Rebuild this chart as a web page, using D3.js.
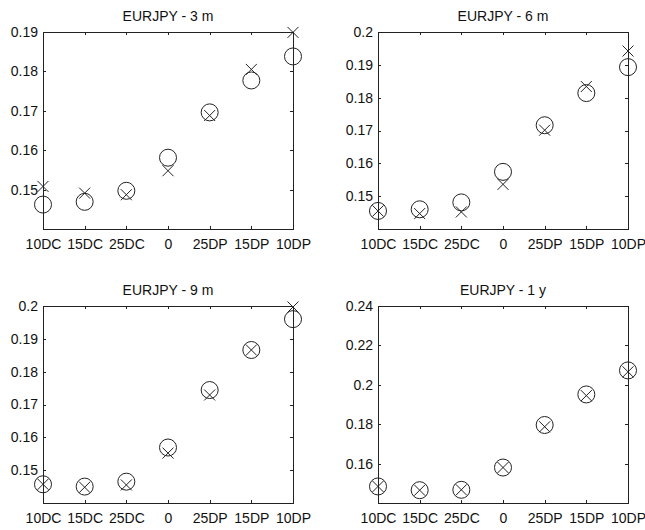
<!DOCTYPE html>
<html>
<head>
<meta charset="utf-8">
<script src="https://cdn.jsdelivr.net/npm/d3@7"></script>
<style>
  body { margin: 0; background: #fff; }
  text { font-family: "Liberation Sans", Arial, sans-serif; fill: #111; }
</style>
</head>
<body>
<svg id="chart" width="645" height="530"></svg>
<script>
// Categories (strike points)
const categories = ['10DC', '15DC', '25DC', '0', '25DP', '15DP', '10DP'];

// Panel titles
const titles = ['EURJPY - 3 m', 'EURJPY - 6 m', 'EURJPY - 9 m', 'EURJPY - 1 y'];

// Circle series (market) per tenor
const circles3m = [0.1462, 0.1469, 0.1497, 0.1581, 0.1696, 0.1777, 0.1838];
const circles6m = [0.1455, 0.1460, 0.1481, 0.1574, 0.1716, 0.1814, 0.1893];
const circles9m = [0.1457, 0.1450, 0.1465, 0.1569, 0.1744, 0.1866, 0.1960];
const circles1y = [0.1484, 0.1465, 0.1467, 0.1580, 0.1796, 0.1951, 0.2073];

// Cross series (model) per tenor
const crosses3m = [0.1508, 0.1491, 0.1487, 0.1548, 0.1688, 0.1805, 0.1899];
const crosses6m = [0.1455, 0.1447, 0.1452, 0.1536, 0.1701, 0.1834, 0.1942];
const crosses9m = [0.1457, 0.1448, 0.1455, 0.1552, 0.1729, 0.1866, 0.1997];
const crosses1y = [0.1484, 0.1465, 0.1467, 0.1580, 0.1787, 0.1945, 0.2066];

// Y domains and tick labels per panel
const yDomains = [[0.14, 0.19], [0.14, 0.2], [0.14, 0.2], [0.14, 0.24]];
const yTicks3m = [0.15, 0.16, 0.17, 0.18, 0.19];
const yTicks6m = [0.15, 0.16, 0.17, 0.18, 0.19, 0.2];
const yTicks9m = [0.15, 0.16, 0.17, 0.18, 0.19, 0.2];
const yTicks1y = [0.16, 0.18, 0.2, 0.22, 0.24];

const panels = [
  { title: titles[0], circles: circles3m, crosses: crosses3m, domain: yDomains[0], ticks: yTicks3m, x: 43, y: 32 },
  { title: titles[1], circles: circles6m, crosses: crosses6m, domain: yDomains[1], ticks: yTicks6m, x: 378, y: 32 },
  { title: titles[2], circles: circles9m, crosses: crosses9m, domain: yDomains[2], ticks: yTicks9m, x: 43, y: 306 },
  { title: titles[3], circles: circles1y, crosses: crosses1y, domain: yDomains[3], ticks: yTicks1y, x: 378, y: 306 }
];

const W = 250, H = 197;
const svg = d3.select('#chart');
const ink = '#222';

function fmt(v) {
  // MATLAB-style: drop trailing zeros
  return String(+v.toFixed(2));
}

panels.forEach(p => {
  const g = svg.append('g').attr('transform', `translate(${p.x},${p.y})`);

  const xScale = d3.scalePoint().domain(categories).range([0, W]);
  const yScale = d3.scaleLinear().domain(p.domain).range([H, 0]);

  // Box
  g.append('rect')
    .attr('x', 0).attr('y', 0).attr('width', W).attr('height', H)
    .style('fill', 'none').style('stroke', ink).style('stroke-width', '1px')
    .attr('shape-rendering', 'crispEdges');

  // Axes with inward ticks
  const xb = g.append('g').attr('transform', `translate(0,${H})`)
    .call(d3.axisBottom(xScale).tickSize(-3).tickPadding(10));
  const xt = g.append('g')
    .call(d3.axisTop(xScale).tickSize(-3).tickFormat(''));
  const yl = g.append('g')
    .call(d3.axisLeft(yScale).tickValues(p.ticks).tickSize(-3).tickPadding(5).tickFormat(fmt));
  const yr = g.append('g').attr('transform', `translate(${W},0)`)
    .call(d3.axisRight(yScale).tickValues(p.ticks).tickSize(-3).tickFormat(''));

  [xb, xt, yl, yr].forEach(a => {
    a.select('.domain').remove();
    a.selectAll('line').style('stroke', ink).attr('shape-rendering', 'crispEdges');
    a.selectAll('text').style('font-size', '14px').style('fill', '#111')
      .style('font-family', '"Liberation Sans", Arial, sans-serif');
  });

  // Title
  g.append('text')
    .attr('x', W / 2).attr('y', -11)
    .attr('text-anchor', 'middle')
    .style('font-size', '14px')
    .text(p.title);

  // Circles
  g.selectAll('.circ')
    .data(p.circles)
    .enter()
    .append('circle')
    .attr('class', 'circ')
    .attr('cx', (d, i) => xScale(categories[i]))
    .attr('cy', d => yScale(d))
    .attr('r', 8.5)
    .style('fill', 'none')
    .style('stroke', ink)
    .style('stroke-width', '1px');

  // Crosses
  const s = 5.5;
  g.selectAll('.cross')
    .data(p.crosses)
    .enter()
    .append('path')
    .attr('class', 'cross')
    .attr('d', (d, i) => {
      const cx = xScale(categories[i]), cy = yScale(d);
      return `M${cx - s},${cy - s}L${cx + s},${cy + s}M${cx - s},${cy + s}L${cx + s},${cy - s}`;
    })
    .style('fill', 'none')
    .style('stroke', ink)
    .style('stroke-width', '1px');
});
</script>
</body>
</html>
